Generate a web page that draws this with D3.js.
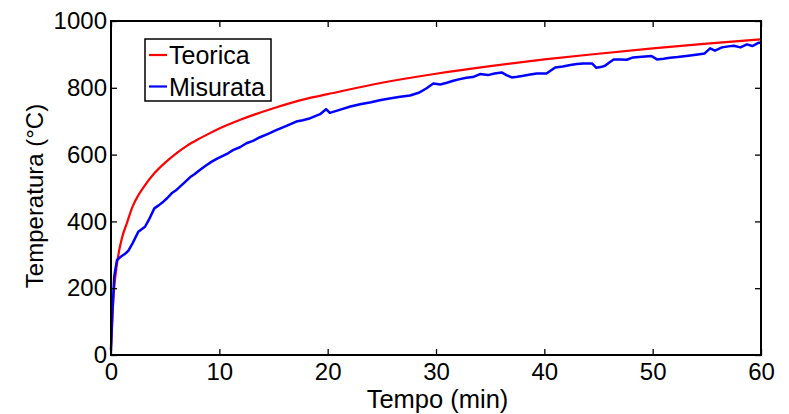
<!DOCTYPE html>
<html>
<head>
<meta charset="utf-8">
<script src="https://cdn.jsdelivr.net/npm/d3@7"></script>
<style>
  html, body { margin: 0; padding: 0; background: #fff; }
  svg { display: block; font-family: "Liberation Sans", Arial, Helvetica, sans-serif; }
</style>
</head>
<body>
<svg id="chart" width="789" height="414"></svg>
<script>
// ---- Data ----
const seriesNames = ["Teorica", "Misurata"];
const seriesColors = ["#ff0000", "#0000ff"];

const teoricaTime = [0, 0.25, 0.5, 0.75, 1, 1.5, 2, 2.5, 3, 4, 5, 6, 7, 8, 9, 10, 12, 15, 18, 20, 25, 30, 35, 40, 45, 50, 55, 60];
const teoricaTemp = [20, 184, 261, 312, 349, 398, 445, 477, 502, 544, 576, 603, 626, 645, 662, 678, 705, 739, 767, 781, 815, 842, 865, 885, 902, 918, 932, 945];

const misurataTime = [0, 0.12, 0.3, 0.55, 0.9, 1.3, 1.6, 2.0, 2.52, 3.14, 3.5, 4.0, 4.4, 4.83, 5.2, 5.6, 6.0, 6.37, 6.8, 7.29, 7.7, 8.2, 8.7, 9.3, 9.8, 10.37, 10.8, 11.3, 11.9, 12.5, 13.1, 13.75, 14.5, 15.3, 16.2, 17.1, 17.7, 18.4, 19.3, 19.85, 20.2, 21.1, 22.1, 23.0, 24.0, 24.8, 25.7, 26.7, 27.6, 28.4, 29.1, 29.75, 30.4, 31.0, 31.6, 32.2, 32.8, 33.4, 34.06, 34.8, 35.4, 36.06, 36.5, 37.0, 37.5, 38.06, 38.7, 39.3, 40.2, 41.0, 41.7, 42.4, 43.0, 43.6, 44.4, 44.8, 45.2, 45.6, 46.0, 46.4, 47.0, 47.6, 48.2, 49.0, 49.9, 50.4, 51.0, 51.6, 52.3, 53.1, 54.0, 54.8, 55.3, 55.75, 56.4, 57.0, 57.5, 58.1, 58.7, 59.2, 59.8, 60];
const misurataTemp = [15, 125, 235, 284, 294, 303, 312, 335, 369, 384, 405, 439, 448, 459, 470, 484, 493, 504, 517, 532, 541, 554, 566, 579, 588, 597, 604, 614, 622, 634, 641, 652, 662, 674, 686, 699, 703, 709, 721, 736, 725, 734, 744, 751, 757, 763, 768, 773, 777, 785, 798, 813, 810, 815, 821, 826, 830, 832, 841, 838, 843, 846, 838, 831, 833, 836, 840, 843, 843, 861, 864, 868, 871, 873, 873, 860, 862, 866, 876, 885, 885, 884, 891, 893, 895, 885, 887, 890, 892, 895, 899, 903, 918, 911, 921, 924, 926, 921, 930, 925, 935, 935];

const xTicks = [0, 10, 20, 30, 40, 50, 60];
const yTicks = [0, 200, 400, 600, 800, 1000];
const xLabel = "Tempo (min)";
const yLabel = "Temperatura (°C)";

// ---- Layout ----
const svg = d3.select("#chart");
const mLeft = 111, mRight = 761, mTop = 21, mBottom = 355;
const tickFont = 24, labelFont = 25.5, legendFont = 25;

const x = d3.scaleLinear().domain([0, 60]).range([mLeft, mRight]);
const y = d3.scaleLinear().domain([0, 1000]).range([mBottom, mTop]);

const tickLen = 6;

const axB = d3.axisBottom(x).tickValues(xTicks).tickSizeInner(-tickLen).tickSizeOuter(0).tickPadding(8).tickFormat(d3.format("d"));
const axT = d3.axisTop(x).tickValues(xTicks).tickSizeInner(-tickLen).tickSizeOuter(0).tickFormat("");
const axL = d3.axisLeft(y).tickValues(yTicks).tickSizeInner(-tickLen).tickSizeOuter(0).tickPadding(4).tickFormat(d3.format("d"));
const axR = d3.axisRight(y).tickValues(yTicks).tickSizeInner(-tickLen).tickSizeOuter(0).tickFormat("");

function styleAxis(g) {
  g.select(".domain").remove();
  g.selectAll(".tick line").attr("stroke", "#000").attr("stroke-width", 1.3);
  g.selectAll(".tick text").attr("fill", "#000").attr("font-size", tickFont).attr("font-family", "Liberation Sans, Arial, sans-serif");
}

const teo = teoricaTime.map((t, i) => [t, teoricaTemp[i]]);
const mis = misurataTime.map((t, i) => [t, misurataTemp[i]]);

svg.append("path").datum(teo)
  .attr("d", d3.line().x(d => x(d[0])).y(d => y(d[1])).curve(d3.curveMonotoneX))
  .attr("fill", "none").attr("stroke", seriesColors[0]).attr("stroke-width", 2.2);
svg.append("path").datum(mis)
  .attr("d", d3.line().x(d => x(d[0])).y(d => y(d[1])))
  .attr("fill", "none").attr("stroke", seriesColors[1]).attr("stroke-width", 2.5).attr("stroke-linejoin", "round");

svg.append("g").attr("transform", `translate(0,${mBottom})`).call(axB).call(styleAxis);
svg.append("g").attr("transform", `translate(0,${mTop})`).call(axT).call(styleAxis);
svg.append("g").attr("transform", `translate(${mLeft},0)`).call(axL).call(styleAxis);
svg.append("g").attr("transform", `translate(${mRight},0)`).call(axR).call(styleAxis);

svg.append("rect").attr("x", mLeft).attr("y", mTop).attr("width", mRight - mLeft).attr("height", mBottom - mTop)
  .attr("fill", "none").attr("stroke", "#000").attr("stroke-width", 2);

svg.append("text").attr("x", 437.5).attr("y", 408).attr("text-anchor", "middle")
  .attr("font-size", labelFont).attr("fill", "#000").text(xLabel);
svg.append("text").attr("transform", `translate(43,196) rotate(-90)`).attr("text-anchor", "middle")
  .attr("font-size", tickFont).attr("fill", "#000").text(yLabel);

const lg = svg.append("g");
lg.append("rect").attr("x", 145).attr("y", 39).attr("width", 126).attr("height", 62)
  .attr("fill", "#fff").attr("stroke", "#000").attr("stroke-width", 1.5);
seriesNames.forEach((name, i) => {
  const cy = 55 + i * 31.5;
  lg.append("line").attr("x1", 149).attr("x2", 167).attr("y1", cy).attr("y2", cy)
    .attr("stroke", seriesColors[i]).attr("stroke-width", 2.2);
  lg.append("text").attr("x", 169).attr("y", cy + 9).attr("font-size", legendFont).attr("fill", "#000").text(name);
});
</script>
</body>
</html>
